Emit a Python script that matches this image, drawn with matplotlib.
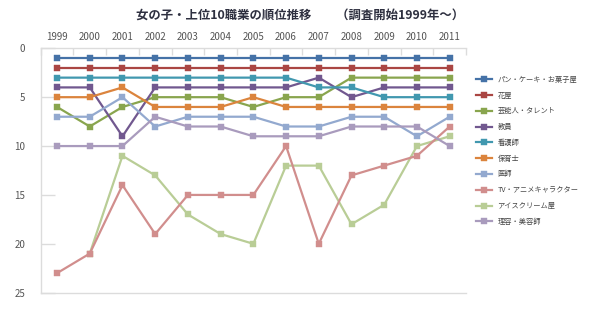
import numpy as np
import matplotlib
matplotlib.use('Agg')
import matplotlib.pyplot as plt
from matplotlib.ticker import FixedLocator

plt.rcParams['font.family'] = ['Noto Sans CJK JP', 'DejaVu Sans']

# データ（順位、None は圏外）
years = ['1999', '2000', '2001', '2002', '2003', '2004', '2005',
         '2006', '2007', '2008', '2009', '2010', '2011']

pan_cake = [1, 1, 1, 1, 1, 1, 1, 1, 1, 1, 1, 1, 1]
hanaya = [2, 2, 2, 2, 2, 2, 2, 2, 2, 2, 2, 2, 2]
geinoujin = [6, 8, 6, 5, 5, 5, 6, 5, 5, 3, 3, 3, 3]
kyouin = [4, 4, 9, 4, 4, 4, 4, 4, 3, 5, 4, 4, 4]
kangoshi = [3, 3, 3, 3, 3, 3, 3, 3, 4, 4, 5, 5, 5]
hoikushi = [5, 5, 4, 6, 6, 6, 5, 6, 6, 6, 6, 6, 6]
ishi = [7, 7, 5, 8, 7, 7, 7, 8, 8, 7, 7, 9, 7]
tv_anime = [23, 21, 14, 19, 15, 15, 15, 10, 20, 13, 12, 11, 8]
icecream = [None, 21, 11, 13, 17, 19, 20, 12, 12, 18, 16, 10, 9]
riyou = [10, 10, 10, 7, 8, 8, 9, 9, 9, 8, 8, 8, 10]

series_names = ['パン・ケーキ・お菓子屋', '花屋', '芸能人・タレント', '教員', '看護師',
                '保育士', '医師', 'TV・アニメキャラクター', 'アイスクリーム屋', '理容・美容師']
series_values = [pan_cake, hanaya, geinoujin, kyouin, kangoshi,
                 hoikushi, ishi, tv_anime, icecream, riyou]
colors = ['#4572A7', '#AA4643', '#89A54E', '#71588F', '#4198AF',
          '#DB843D', '#93A9CF', '#D18E8D', '#B9CD96', '#A99BBD']

fig = plt.figure(figsize=(6, 3.26), dpi=100)
ax = fig.add_axes([0.0678, 0.1022, 0.7089, 0.7496])

x = np.arange(len(years))
for i, (name, vals, c) in enumerate(zip(series_names, series_values, colors)):
    y = np.array([np.nan if v is None else v for v in vals], dtype=float)
    z = 2 + i
    if name == 'アイスクリーム屋':
        z = 1.5
    ax.plot(x, y, color=c, linewidth=1.6, marker='s', markersize=4.6,
            markerfacecolor=c, markeredgecolor=c, markeredgewidth=0.3,
            label=name, zorder=z)

ax.set_xlim(-0.5, len(years) - 0.5)
ax.set_ylim(25, 0)

# 枠線
grid_c = '#dcdcdc'
for side in ['left', 'bottom', 'top']:
    ax.spines[side].set_color(grid_c)
    ax.spines[side].set_linewidth(1.0)
ax.spines['right'].set_visible(False)

# 上側に年ラベル
ax.xaxis.tick_top()
ax.set_xticks(x)
ax.set_xticklabels(years)
ax.xaxis.set_minor_locator(FixedLocator(np.arange(-0.5, len(years), 1.0)))
ax.tick_params(axis='x', which='major', length=0, pad=4.5, labelsize=7, labelcolor='#555555')
ax.tick_params(axis='x', which='minor', direction='in', length=5, color=grid_c, width=1.0)

ax.set_yticks([0, 5, 10, 15, 20, 25])
ax.tick_params(axis='y', direction='in', length=10, color=grid_c, width=1.0,
               labelsize=7, labelcolor='#555555', pad=11)

fig.text(0.5, 0.955, '女の子・上位10職業の順位推移　　（調査開始1999年〜）',
         ha='center', va='center', fontsize=8.9, fontweight='bold', color='#2e3040')

leg = ax.legend(loc='upper left', bbox_to_anchor=(0.787, 0.779),
                bbox_transform=fig.transFigure, frameon=False,
                fontsize=5.2, labelspacing=1.08, handlelength=2.2,
                handletextpad=0.8, borderpad=0)
for t in leg.get_texts():
    t.set_color('#444444')

fig.savefig('out.png', dpi=100)
